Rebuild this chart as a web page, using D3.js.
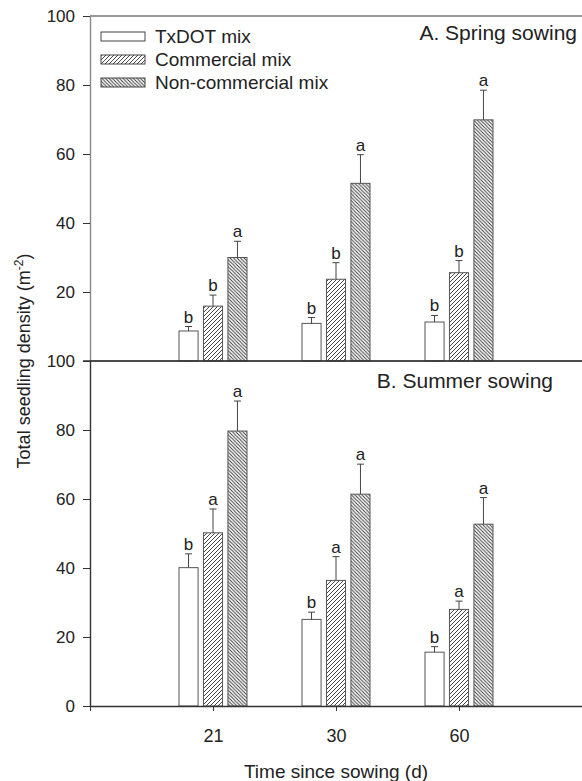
<!DOCTYPE html>
<html>
<head>
<meta charset="utf-8">
<script src="https://cdn.jsdelivr.net/npm/d3@7"></script>
<style>
  body { margin: 0; background: #fff; }
  svg { font-family: "Liberation Sans", Arial, sans-serif; }
</style>
</head>
<body>
<div id="graph"></div>
<script>
const days = ["21", "30", "60"];
const mixes = ["TxDOT mix", "Commercial mix", "Non-commercial mix"];

// spring sowing means and standard errors (upper bars only)
const springTxdot = [8.7, 10.9, 11.3];
const springTxdotSE = [1.3, 1.7, 1.9];
const springCommercial = [15.9, 23.7, 25.6];
const springCommercialSE = [3.2, 4.8, 3.5];
const springNoncom = [30.0, 51.5, 69.9];
const springNoncomSE = [4.7, 8.3, 8.6];
const springLetters = [["b", "b", "a"], ["b", "b", "a"], ["b", "b", "a"]];

// summer sowing
const summerTxdot = [40.1, 25.1, 15.6];
const summerTxdotSE = [4.0, 2.1, 1.6];
const summerCommercial = [50.2, 36.4, 28.0];
const summerCommercialSE = [6.9, 6.9, 2.4];
const summerNoncom = [79.7, 61.4, 52.7];
const summerNoncomSE = [8.7, 8.7, 7.7];
const summerLetters = [["b", "a", "a"], ["b", "a", "a"], ["b", "a", "a"]];

const yTicks = [0, 20, 40, 60, 80, 100];

const w = 582;
const h = 781;
const left = 90;
const panels = [
  { title: "A. Spring sowing", top: 16, bottom: 361, axisColor: "#888",
    series: [[springTxdot, springTxdotSE], [springCommercial, springCommercialSE], [springNoncom, springNoncomSE]],
    letters: springLetters, titleX: 577, titleY: 40 },
  { title: "B. Summer sowing", top: 361, bottom: 706, axisColor: "#333",
    series: [[summerTxdot, summerTxdotSE], [summerCommercial, summerCommercialSE], [summerNoncom, summerNoncomSE]],
    letters: summerLetters, titleX: 553, titleY: 388 },
];

const svg = d3.select("#graph").append("svg").attr("width", w).attr("height", h);

const defs = svg.append("defs");
const fwd = defs.append("pattern").attr("id", "fwd").attr("patternUnits", "userSpaceOnUse")
  .attr("width", 4).attr("height", 4);
fwd.append("rect").attr("width", 4).attr("height", 4).attr("fill", "#fff");
fwd.append("path").attr("d", "M-1,1 l2,-2 M0,4 l4,-4 M3,5 l2,-2")
  .attr("stroke", "#333").attr("stroke-width", 0.9);
const back = defs.append("pattern").attr("id", "back").attr("patternUnits", "userSpaceOnUse")
  .attr("width", 3.5).attr("height", 3.5);
back.append("rect").attr("width", 3.5).attr("height", 3.5).attr("fill", "#fff");
back.append("path").attr("d", "M-1,-1 l5.5,5.5 M-1,2.5 l2,2 M2.5,-1 l2,2")
  .attr("stroke", "#333").attr("stroke-width", 0.9);
const fills = ["#fff", "url(#fwd)", "url(#back)"];

const x = d3.scaleLinear().domain([0, 4]).range([left, w]);
const inner = d3.scaleBand().domain(d3.range(mixes.length)).range([-34, 34]).paddingInner(0.22);

panels.forEach((p) => {
  const y = d3.scaleLinear().domain([0, 100]).range([p.bottom, p.top]);
  const g = svg.append("g");

  // top frame line
  g.append("line").attr("x1", left).attr("x2", w).attr("y1", p.top).attr("y2", p.top)
    .attr("stroke", "#333").attr("stroke-width", 1.2);

  p.series.forEach((s, j) => {
    const [means, se] = s;
    const bars = g.append("g");
    means.forEach((m, i) => {
      const bx = x(i + 1) + inner(j);
      const cx = bx + inner.bandwidth() / 2;
      bars.append("rect")
        .attr("x", bx).attr("y", y(m))
        .attr("width", inner.bandwidth()).attr("height", y(0) - y(m))
        .attr("fill", fills[j]).attr("stroke", "#555").attr("stroke-width", 1);
      bars.append("line").attr("x1", cx).attr("x2", cx).attr("y1", y(m)).attr("y2", y(m + se[i]))
        .attr("stroke", "#444").attr("stroke-width", 1);
      bars.append("line").attr("x1", cx - 3.5).attr("x2", cx + 3.5).attr("y1", y(m + se[i])).attr("y2", y(m + se[i]))
        .attr("stroke", "#444").attr("stroke-width", 1);
      bars.append("text").attr("x", cx).attr("y", y(m + se[i]) - 4)
        .attr("text-anchor", "middle").attr("font-size", 17).attr("fill", "#222")
        .text(p.letters[i][j]);
    });
  });

  const ya = g.append("g").attr("transform", `translate(${left},0)`)
    .call(d3.axisLeft(y).tickValues(yTicks).tickSize(7).tickSizeOuter(0));
  ya.select(".domain").attr("stroke", p.axisColor).attr("stroke-width", 1.4);
  ya.selectAll(".tick line").attr("stroke", "#333");
  ya.selectAll(".tick text").attr("font-size", 17).attr("fill", "#222").attr("x", -15)
    .attr("font-family", "Liberation Sans, Arial, sans-serif");
  if (p.top === 16) ya.selectAll(".tick").filter((d) => d === 0).remove();

  g.append("text").attr("x", p.titleX).attr("y", p.titleY).attr("text-anchor", "end")
    .attr("font-size", 21).attr("fill", "#222").text(p.title);
});

// x axis at bottom
const xa = svg.append("g").attr("transform", `translate(0,706)`)
  .call(d3.axisBottom(x).tickValues([0, 1, 2, 3]).tickFormat((d) => (d === 0 ? "" : days[d - 1]))
    .tickSize(5).tickSizeOuter(0));
xa.select(".domain").attr("stroke", "#333").attr("stroke-width", 1.4);
xa.selectAll(".tick line").attr("stroke", "#333");
xa.selectAll(".tick text").attr("font-size", 18).attr("fill", "#222").attr("y", 23)
  .attr("font-family", "Liberation Sans, Arial, sans-serif");

// panel separator
svg.append("line").attr("x1", left - 7).attr("x2", w).attr("y1", 361).attr("y2", 361)
  .attr("stroke", "#333").attr("stroke-width", 1.4);

svg.append("text").attr("x", x(2)).attr("y", 778).attr("text-anchor", "middle")
  .attr("font-size", 19).attr("fill", "#222").text("Time since sowing (d)");

const yl = svg.append("text").attr("transform", "translate(30,361) rotate(-90)")
  .attr("text-anchor", "middle").attr("font-size", 18).attr("fill", "#222");
yl.append("tspan").text("Total seedling density (m");
yl.append("tspan").attr("font-size", 12).attr("dy", -7).text("-2");
yl.append("tspan").attr("dy", 7).text(")");

// legend
const legend = svg.append("g").attr("transform", "translate(101,32)");
mixes.forEach((name, i) => {
  legend.append("rect").attr("x", 0).attr("y", i * 23).attr("width", 44).attr("height", 9)
    .attr("fill", fills[i]).attr("stroke", "#444").attr("stroke-width", 1);
  legend.append("text").attr("x", 54).attr("y", i * 23 + 11).attr("font-size", 19).attr("fill", "#222")
    .text(name);
});
</script>
</body>
</html>
